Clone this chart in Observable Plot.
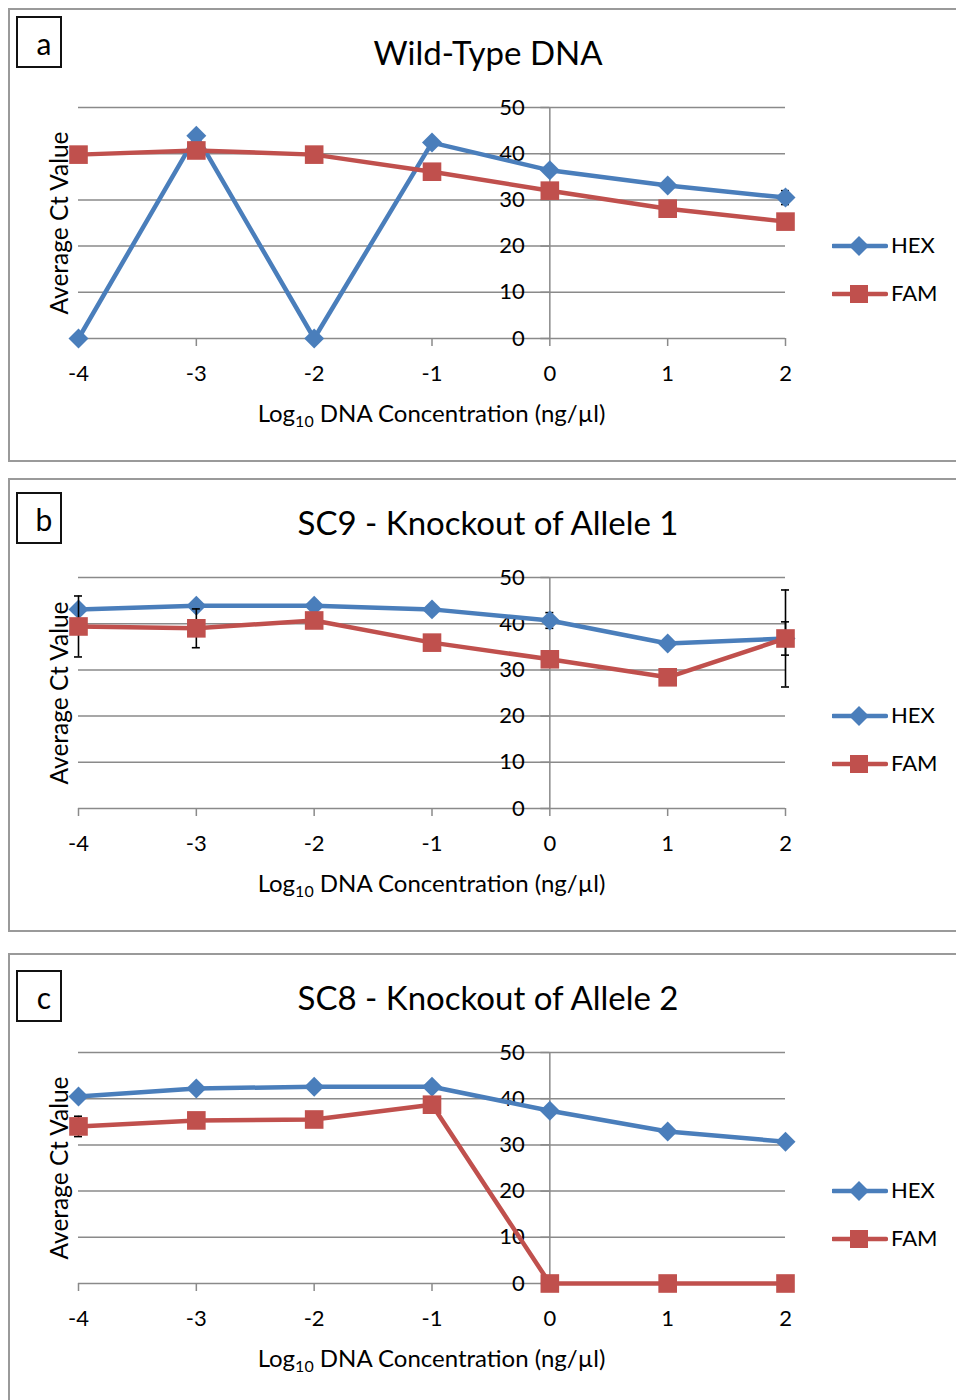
<!DOCTYPE html>
<html><head><meta charset="utf-8">
<script src="https://cdn.jsdelivr.net/npm/d3@7"></script>
<script src="https://cdn.jsdelivr.net/npm/@observablehq/plot@0.6"></script>
<style>
body{margin:0;background:#fff;font-family:Lato,"Open Sans",sans-serif;color:#000;}
#root{position:relative;width:956px;height:1400px;overflow:hidden;background:#fff;}
.panel{position:absolute;left:8px;width:970px;border:2px solid #9a9a9a;box-sizing:border-box;}
.plotwrap{position:absolute;left:0;}
.title{position:absolute;left:8px;width:960px;text-align:center;font-size:33px;line-height:1;}
.letter{position:absolute;left:16px;width:46px;height:52px;border:2px solid #111;box-sizing:border-box;font-size:30px;padding-left:10px;padding-top:3px;text-align:center;line-height:44px;}
.xlabel{position:absolute;left:78px;width:707px;text-align:center;font-size:24px;line-height:1;}
.xlabel sub{font-size:16px;vertical-align:-5px;line-height:0;}
.legend{position:absolute;left:832px;font-size:22px;}
.legend .item{position:absolute;left:0;height:30px;white-space:nowrap;}
.legend svg{position:absolute;left:0;top:0;}
.legend span{position:absolute;left:59px;top:3px;line-height:1;}
</style>
</head><body><div id="root"></div>
<script>
// ---- data ----
const xValues = [-4, -3, -2, -1, 0, 1, 2];
const yTicks = [0, 10, 20, 30, 40, 50];
const seriesNames = ["HEX", "FAM"];
const seriesColors = ["#4a7ebb", "#c0504d"];
const panelLetters = ["a", "b", "c"];
const panelTitles = ["Wild-Type DNA", "SC9 - Knockout of Allele 1", "SC8 - Knockout of Allele 2"];
const yLabel = "Average Ct Value";

const hexA = [0, 43.9, 0, 42.4, 36.4, 33.1, 30.5];
const famA = [39.8, 40.7, 39.8, 36.1, 32.0, 28.1, 25.3];
const hexErrA = [0, 0, 0, 0, 0, 0, 1.5];
const famErrA = [0, 0, 0, 0, 0, 0, 0];

const hexB = [43.1, 43.9, 43.9, 43.1, 40.7, 35.7, 36.8];
const famB = [39.4, 39.0, 40.7, 35.9, 32.3, 28.4, 36.8];
const hexErrB = [0, 0, 0, 0.8, 1.7, 0, 3.6];
const famErrB = [6.6, 4.2, 0, 0, 0, 0, 10.5];

const hexC = [40.5, 42.2, 42.6, 42.6, 37.4, 32.9, 30.7];
const famC = [34.0, 35.3, 35.5, 38.7, 0, 0, 0];
const hexErrC = [0, 0, 0, 0, 0, 1.0, 0];
const famErrC = [2.2, 0, 0, 0, 0, 0, 0];

const panelData = [
  [hexA, famA, hexErrA, famErrA],
  [hexB, famB, hexErrB, famErrB],
  [hexC, famC, hexErrC, famErrC]
];
const panelTops = [8, 478, 953];
const panelHeights = [454, 454, 470];

// ---- drawing ----
const root = document.getElementById("root");
const gridColor = "#8a8a8a";
const FONT = "Lato, 'Open Sans', sans-serif";

function rowsFor(values, errs, name) {
  return xValues.map((x, i) => ({x, y: values[i], e: errs[i], series: name}));
}

panelData.forEach((pd, p) => {
  const top = panelTops[p];
  const panel = document.createElement("div");
  panel.className = "panel";
  panel.style.top = top + "px";
  panel.style.height = panelHeights[p] + "px";
  root.appendChild(panel);

  const hexRows = rowsFor(pd[0], pd[2], seriesNames[0]);
  const famRows = rowsFor(pd[1], pd[3], seriesNames[1]);

  const errMarks = (rows) => {
    const r = rows.filter(d => d.e > 0);
    return [
      Plot.ruleX(r, {x: "x", y1: d => d.y - d.e, y2: d => d.y + d.e, stroke: "#000", strokeWidth: 1.6}),
      Plot.ruleY(r, {y: d => d.y - d.e, x1: "x", x2: "x", insetLeft: -4, insetRight: -4, stroke: "#000", strokeWidth: 1.6}),
      Plot.ruleY(r, {y: d => d.y + d.e, x1: "x", x2: "x", insetLeft: -4, insetRight: -4, stroke: "#000", strokeWidth: 1.6})
    ];
  };

  const chart = Plot.plot({
    width: 956,
    height: 454,
    marginLeft: 78,
    marginRight: 171,
    marginTop: 99,
    marginBottom: 124,
    style: {fontFamily: FONT, fontSize: "22px", color: "#000", background: "transparent", overflow: "visible"},
    x: {domain: [-4, 2]},
    y: {domain: [0, 50], axis: null},
    color: {domain: seriesNames, range: seriesColors},
    marks: [
      Plot.ruleY(yTicks, {y: d => d, stroke: gridColor, strokeWidth: 1.5}),
      Plot.ruleX([0], {stroke: gridColor, strokeWidth: 1.5}),
      Plot.ruleY(yTicks, {y: d => d, x1: 0, x2: 0, insetLeft: -9, stroke: gridColor, strokeWidth: 1.5}),
      Plot.axisX(xValues, {tickSize: 8, tickPadding: 19, tickFormat: d => String(d), stroke: gridColor, strokeWidth: 1.5, fontSize: 22, label: null}),
      Plot.text(yTicks, {x: 0, y: d => d, text: d => String(d), dx: -25, textAnchor: "end", fontSize: 22, fill: "#000"}),
      Plot.text([yLabel], {frameAnchor: "left", textAnchor: "middle", rotate: -90, dx: -18, fontSize: 24.5, fill: "#000"}),
      Plot.line(hexRows, {x: "x", y: "y", stroke: "series", strokeWidth: 4.5}),
      ...errMarks(hexRows),
      Plot.dot(hexRows, {x: "x", y: "y", fill: "series", symbol: "diamond2", r: 9}),
      Plot.line(famRows, {x: "x", y: "y", stroke: "series", strokeWidth: 4.5}),
      ...errMarks(famRows),
      Plot.dot(famRows, {x: "x", y: "y", fill: "series", symbol: "square", r: 10.5})
    ]
  });
  const wrap = document.createElement("div");
  wrap.className = "plotwrap";
  wrap.style.top = top + "px";
  wrap.appendChild(chart);
  root.appendChild(wrap);

  const title = document.createElement("div");
  title.className = "title";
  title.textContent = panelTitles[p];
  title.style.top = (top + 28) + "px";
  root.appendChild(title);

  const letter = document.createElement("div");
  letter.className = "letter";
  letter.textContent = panelLetters[p];
  letter.style.top = (top + 8 + (p === 2 ? 9 : p === 1 ? 6 : 0)) + "px";
  root.appendChild(letter);

  const xl = document.createElement("div");
  xl.className = "xlabel";
  xl.innerHTML = "Log<sub>10</sub> DNA Concentration (ng/µl)";
  xl.style.top = (top + 393) + "px";
  root.appendChild(xl);

  const legend = document.createElement("div");
  legend.className = "legend";
  legend.style.top = (top + 223) + "px";
  seriesNames.forEach((name, i) => {
    const item = document.createElement("div");
    item.className = "item";
    item.style.top = (i * 48) + "px";
    const svg = d3.create("svg").attr("width", 56).attr("height", 30);
    svg.append("line").attr("x1", 1).attr("x2", 54).attr("y1", 15).attr("y2", 15)
      .attr("stroke", seriesColors[i]).attr("stroke-width", 4.5).attr("stroke-linecap", "round");
    if (i === 0) {
      svg.append("path").attr("d", "M27,5L37,15L27,25L17,15Z").attr("fill", seriesColors[i]);
    } else {
      svg.append("rect").attr("x", 18).attr("y", 6).attr("width", 18).attr("height", 18).attr("fill", seriesColors[i]);
    }
    item.appendChild(svg.node());
    const s = document.createElement("span");
    s.textContent = name;
    item.appendChild(s);
    legend.appendChild(item);
  });
  root.appendChild(legend);
});
</script>
</body></html>
